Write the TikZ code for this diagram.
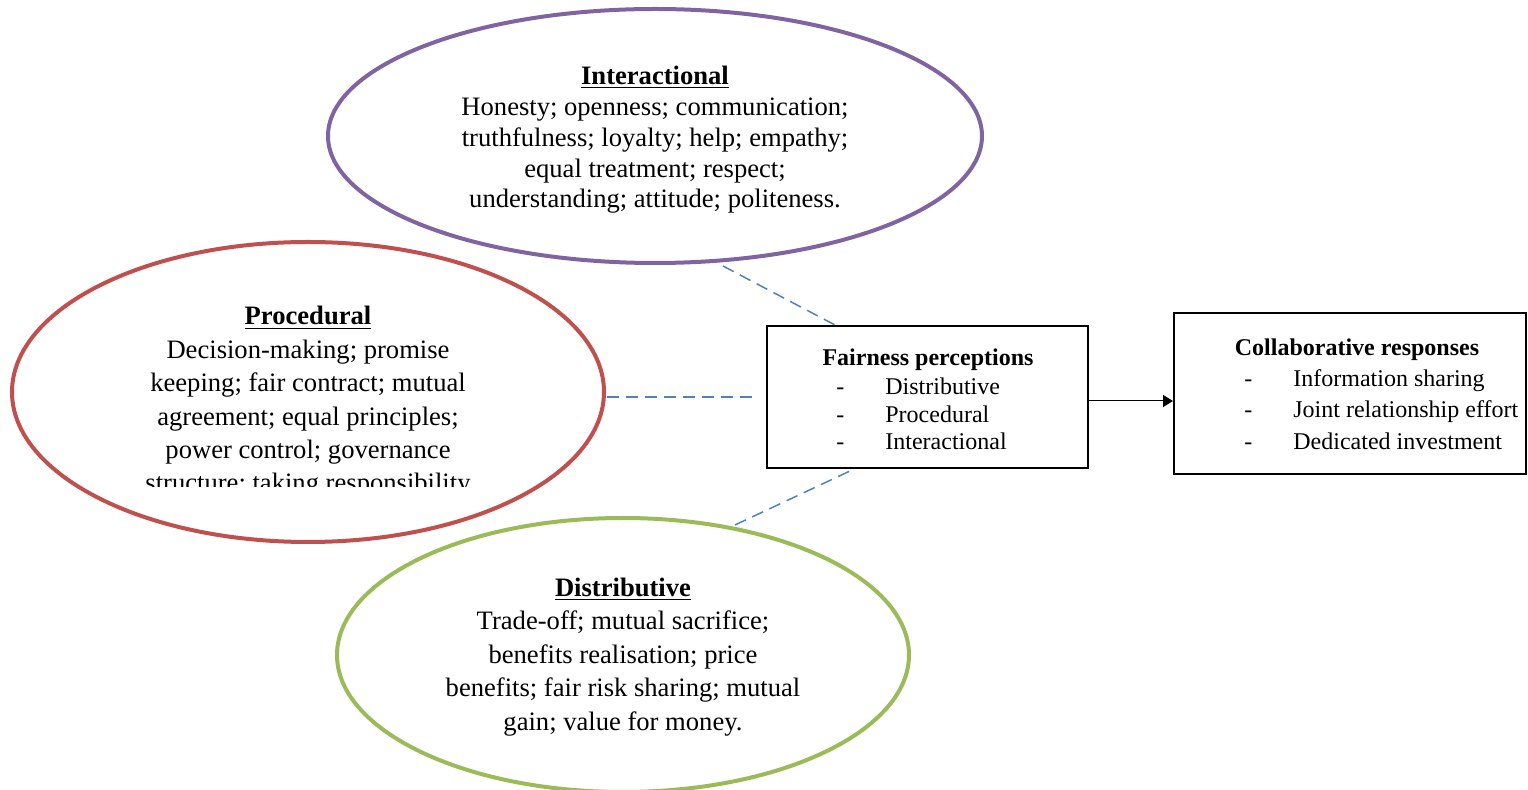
\documentclass[tikz,border=0pt]{standalone}
\usepackage{fontspec}
\setmainfont{Liberation Serif}
\usepackage{xcolor}
\usetikzlibrary{arrows.meta,positioning,shapes.geometric}
\definecolor{cInter}{HTML}{8064A2}
\definecolor{cProc}{HTML}{C0504D}
\definecolor{cDist}{HTML}{9BBB59}
\definecolor{cLink}{HTML}{4F81BD}
\tikzset{
  oval/.style={ellipse, draw, line width=2pt, inner sep=0pt},
  ovaltxt/.style={inner sep=0pt, align=center, font=\fontsize{13.3}{16.7}\selectfont},
  outbox/.style={draw=black, line width=1pt, inner sep=0pt},
  headtxt/.style={inner sep=0pt, font=\fontsize{12}{14}\selectfont\bfseries},
  listtxt/.style={inner sep=0pt, align=left, anchor=west},
  link/.style={cLink, line width=0.75pt, dash pattern=on 6pt off 3.5pt},
  arr/.style={-{Triangle[length=5pt,width=6pt]}, line width=0.5pt, black}
}
\newcommand{\ovalhead}[1]{\underline{\textbf{#1}}}
\newcommand{\dashitem}[1]{\makebox[24.5pt][l]{-}#1}

\begin{document}
\begin{tikzpicture}[x=0.5pt, y=-0.5pt]
\useasboundingbox (0,0) rectangle (1528,790);
% the three fairness dimensions
\node[oval, draw=cInter, minimum width=327pt, minimum height=127pt] (inter) at (655,136) {};
\node[ovaltxt, font=\fontsize{13.3}{15.4}\selectfont] (intertxt) at (655,140)
  {\ovalhead{Interactional}\\ Honesty; openness; communication;\\ truthfulness; loyalty; help; empathy;\\ equal treatment; respect;\\ understanding; attitude; politeness.};
\node[oval, draw=cProc, minimum width=296pt, minimum height=150pt] (proc) at (308,392) {};
\begin{scope}
  \clip (100,290) rectangle (520,487);
  \node[ovaltxt] (proctxt) at (308,402)
    {\ovalhead{Procedural}\\ Decision-making; promise\\ keeping; fair contract; mutual\\ agreement; equal principles;\\ power control; governance\\ structure; taking responsibility};
\end{scope}
\node[oval, draw=cDist, minimum width=286pt, minimum height=137pt] (dist) at (623,655) {};
\node[ovaltxt] (disttxt) at (623,657)
  {\ovalhead{Distributive}\\ Trade-off; mutual sacrifice;\\ benefits realisation; price\\ benefits; fair risk sharing; mutual\\ gain; value for money.};
% boxes
\node[outbox, minimum width=160.5pt, minimum height=71pt] (fair) at (927.5,397) {};
\node[headtxt] (fairhead) at (928,360) {Fairness perceptions};
\node[listtxt, font=\fontsize{12}{13.75}\selectfont] (fairlist) at (836,414)
  {\dashitem{Distributive}\\ \dashitem{Procedural}\\ \dashitem{Interactional}};
\node[outbox, minimum width=176pt, minimum height=80.5pt] (collab) at (1350,393.5) {};
\node[headtxt] (collabhead) at (1357,350) {Collaborative responses};
\node[listtxt, font=\fontsize{12}{15.75}\selectfont] (collablist) at (1244,409.5)
  {\dashitem{Information sharing}\\ \dashitem{Joint relationship effort}\\ \dashitem{Dedicated investment}};
% links
\draw[link] ([shift={(68,1)}]inter.south) -- ([shift={(-92.5,0)}]fair.north);
\draw[link] ([shift={(1,5)}]proc.east) -- ([shift={(-10,0)}]fair.west);
\draw[link] ([shift={(112,9)}]dist.north) -- ([shift={(-77.5,2)}]fair.south);
\draw[arr] ([yshift=-2pt]fair.east) -- ([yshift=-2pt]fair.east -| collab.west);
\end{tikzpicture}
\end{document}
